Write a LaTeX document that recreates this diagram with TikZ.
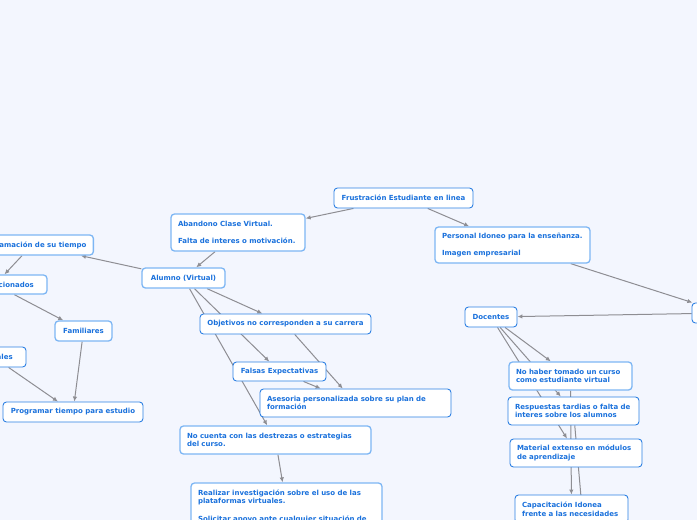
\documentclass[tikz,border=0pt]{standalone}
\usepackage{fontspec}
\setmainfont{DejaVu Sans}
\usetikzlibrary{arrows.meta,backgrounds}

\definecolor{mapbg}{HTML}{F3F6FE}
\definecolor{mapblue}{HTML}{1A71DC}
\definecolor{mapedge}{HTML}{2D80E3}
\definecolor{maplight}{HTML}{7DB6F4}
\definecolor{mapline}{HTML}{8E8E93}

\tikzset{
	topic/.style={draw=mapedge,line width=0.9pt,fill=white,rounded corners=3.5pt,
		text=mapblue,font=\bfseries\fontsize{7}{8.7}\selectfont,align=left,
		inner xsep=7pt,inner ysep=0pt},
	topiclight/.style={topic,draw=maplight,line width=1.3pt},
	link/.style={draw=mapline,line width=1pt,-{Latex[length=5pt,width=4.5pt]}},
}

\begin{document}
\begin{tikzpicture}[x=1pt,y=-1pt]
	\useasboundingbox (0,0) rectangle (697,520);
	\clip (0,0) rectangle (697,520);
	
	% main topic and first branches
	\node[topic,minimum width=139pt,minimum height=20pt] (frust) at (403.5,198) {Frustración Estudiante en linea};
	\node[topiclight,text width=120pt,minimum height=37pt] (aband) at (238,232.5) {Abandono Clase Virtual.\\[8.7pt]Falta de interes o motivación.};
	\node[topiclight,text width=141pt,minimum height=36pt] (pers) at (512.5,245) {Personal Idoneo para la enseñanza.\\[8.7pt]Imagen empresarial};
	\node[topic,minimum width=66pt,minimum height=20pt] (inst) at (725,313) {};
	\node[topic,minimum width=52pt,minimum height=20pt] (doc) at (491,317) {Docentes};
	\node[topiclight,minimum width=83pt,minimum height=20pt] (alum) at (183.5,278) {Alumno (Virtual)};
	
	% alumno, left side
	\node[topiclight,minimum width=122pt,minimum height=20pt] (prog) at (32,245) {Programación de su tiempo};
	\node[topiclight,minimum width=104pt,minimum height=19pt] (rel) at (-5,284.5) {Temas relacionados};
	\node[topiclight,minimum width=57pt,minimum height=20pt] (fam) at (83.5,331) {Familiares};
	\node[topic,minimum width=65pt,minimum height=20pt] (lab) at (-6.5,357) {Laborales};
	\node[topic,minimum width=140pt,minimum height=20pt] (progr) at (73,412) {Programar tiempo para estudio};
	
	% alumno, lower side
	\node[topic,minimum width=171pt,minimum height=20pt] (obj) at (285.5,324) {Objetivos no corresponden a su carrera};
	\node[topic,minimum width=93pt,minimum height=19pt] (fals) at (279.5,371.5) {Falsas Expectativas};
	\node[topic,text width=177pt,minimum height=28pt] (ases) at (355.5,403) {Asesoria personalizada sobre su plan de\\formación};
	\node[topiclight,text width=177pt,minimum height=28pt] (nocu) at (275.5,440) {No cuenta con las destrezas o estrategias\\del curso.};
	\node[topiclight,text width=177pt,minimum height=46pt] (real) at (286.5,506) {Realizar investigación sobre el uso de las\\plataformas virtuales.\\[8.7pt]Solicitar apoyo ante cualquier situación de};
	
	% docentes
	\node[topiclight,text width=109pt,minimum height=28pt] (noha) at (570.5,376) {No haber tomado un curso\\como estudiante virtual};
	\node[topic,text width=117pt,minimum height=28pt] (resp) at (573.5,411) {Respuestas tardias o falta de\\interes sobre los alumnos};
	\node[topic,text width=118pt,minimum height=28pt] (mate) at (576,453) {Material extenso en módulos\\de aprendizaje};
	\node[topic,text width=99pt,minimum height=28pt] (capa) at (571.5,509) {Capacitación Idonea\\frente a las necesidades};
	\coordinate (respend) at (591,611);
	
	\begin{scope}[on background layer]
		\fill[mapbg] (0,0) rectangle (697,520);
		
		\draw[link] (frust)--(aband);
		\draw[link] (frust)--(pers);
		\draw[link] (pers)--(inst);
		\draw[link] (inst)--(doc);
		\draw[link] (aband)--(alum);
		
		\draw[link] (alum)--(prog);
		\draw[link] (prog)--(rel);
		\draw[link] (rel)--(fam);
		\draw[link] (fam)--(progr);
		\draw[link] (lab)--(progr);
		
		\draw[link] (alum)--(obj);
		\draw[link] (alum)--(fals);
		\draw[link] (alum)--(nocu);
		\draw[link] (obj)--(ases);
		\draw[link] (fals)--(ases);
		\draw[link] (nocu)--(real);
		
		\draw[link] (doc)--(noha);
		\draw[link] (doc)--(resp);
		\draw[link] (doc)--(mate);
		\draw[link] (noha)--(capa);
		\draw[draw=mapline,line width=1pt] (resp)--(respend);
	\end{scope}
\end{tikzpicture}
\end{document}
